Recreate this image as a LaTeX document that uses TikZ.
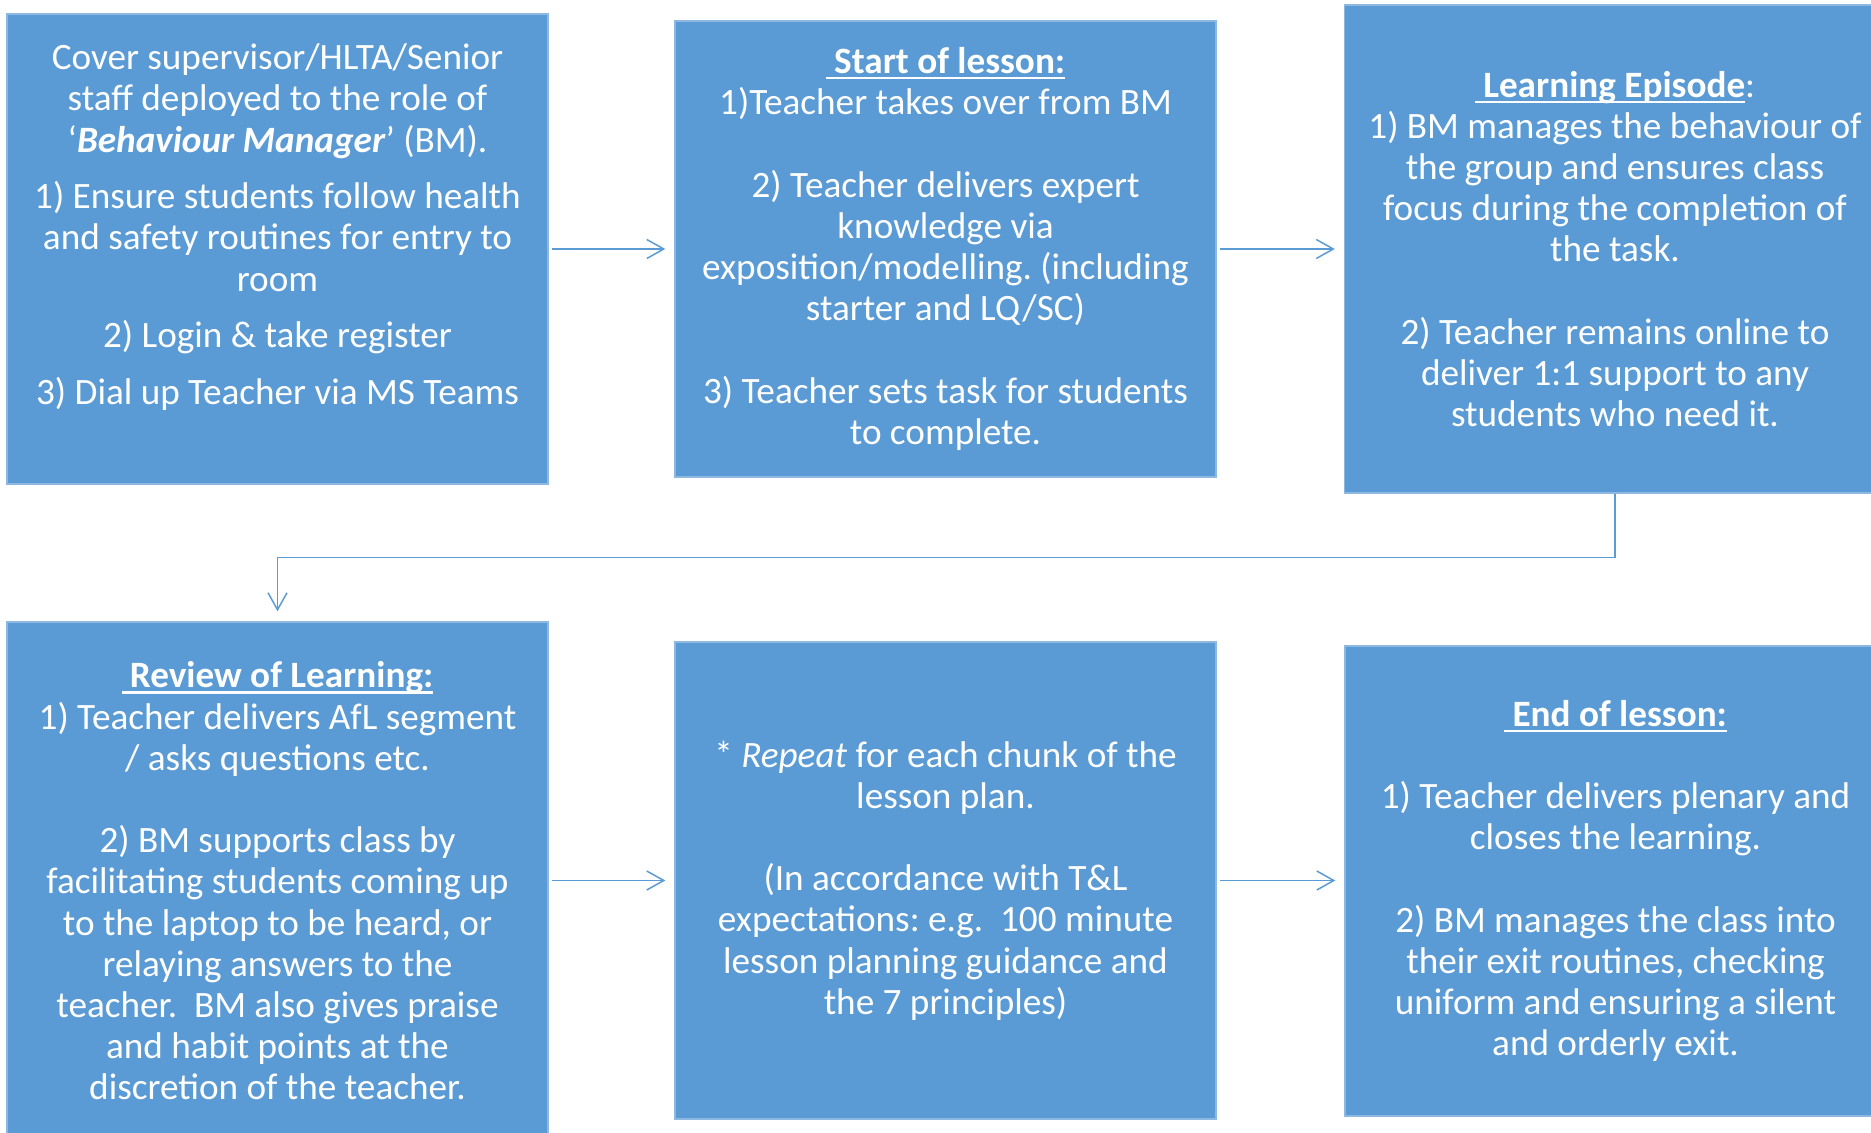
\documentclass[tikz,border=0pt]{standalone}
\usepackage{fontspec}
\setmainfont{Carlito}
\usetikzlibrary{arrows.meta}
\frenchspacing

\definecolor{boxblue}{HTML}{5B9BD5}
\definecolor{boxedge}{HTML}{8DB8E2}

% bold heading with a rule under it
\newcommand{\headul}[1]{\setbox0\hbox{\textbf{#1}}\rlap{\rule[-2.8pt]{\wd0}{1.1pt}}\box0}

\tikzset{
  stage/.style={rectangle, fill=boxblue, draw=boxedge, line width=0.7pt,
    text=white, align=center, inner sep=0pt,
    minimum width=270.5pt, font=\fontsize{18.6pt}{20.6pt}\selectfont},
  flow/.style={draw=boxblue, line width=0.75pt,
    -{Straight Barb[length=8.5pt,width=9.5pt]}}
}

\begin{document}
\begin{tikzpicture}[x=0.5pt,y=-0.5pt]
  \useasboundingbox (0,0) rectangle (1871,1133);

  \node[stage, minimum height=235pt, text depth=25pt] (role) at (277.5,249) {
    Cover supervisor/HLTA/Senior\\
    staff deployed to the role of\\
    ‘\textbf{\textit{Behaviour Manager}}’ (BM).\\[7.7pt]
    1) Ensure students follow health\\
    and safety routines for entry to\\
    room\\[7.7pt]
    2) Login \& take register\\[7.7pt]
    3) Dial up Teacher via MS Teams};

  \node[stage, minimum height=228pt] (start) at (945.5,249) {
    \headul{\ Start of lesson:}\\
    1)Teacher takes over from BM\\[20.6pt]
    2) Teacher delivers expert\\
    knowledge via\\
    exposition/modelling. (including\\
    starter and LQ/SC)\\[20.6pt]
    3) Teacher sets task for students\\
    to complete.};

  \node[stage, minimum height=244pt] (episode) at (1615,249) {
    \headul{\ Learning Episode}:\\
    1) BM manages the behaviour of\\
    the group and ensures class\\
    focus during the completion of\\
    the task.\\[20.6pt]
    2) Teacher remains online to\\
    deliver 1:1 support to any\\
    students who need it.};

  \node[stage, minimum height=259pt] (review) at (277.5,881) {
    \headul{\ Review of Learning:}\\
    1) Teacher delivers AfL segment\\
    / asks questions etc.\\[20.6pt]
    2) BM supports class by\\
    facilitating students coming up\\
    to the laptop to be heard, or\\
    relaying answers to the\\
    teacher.\ \ BM also gives praise\\
    and habit points at the\\
    discretion of the teacher.};

  \node[stage, minimum height=238.5pt] (repeat) at (945.5,880.5) {
    * \textit{Repeat} for each chunk of the\\
    lesson plan.\\[20.6pt]
    (In accordance with T\&L\\
    expectations: e.g.\ \ 100 minute\\
    lesson planning guidance and\\
    the 7 principles)};

  \node[stage, minimum height=235pt] (finish) at (1615.5,881) {
    \headul{\ End of lesson:}\\[20.6pt]
    1) Teacher delivers plenary and\\
    closes the learning.\\[20.6pt]
    2) BM manages the class into\\
    their exit routines, checking\\
    uniform and ensuring a silent\\
    and orderly exit.};

  \draw[flow, shorten <=1.5pt, shorten >=4.5pt] (role) -- (start);
  \draw[flow, shorten <=1.5pt, shorten >=4.5pt] (start) -- (episode);
  \draw[flow, shorten >=5pt] (episode.south) -- ++(0,64) -| (review.north);
  \draw[flow, shorten <=1.5pt, shorten >=4.5pt] (review.east |- repeat.west) -- (repeat.west);
  \draw[flow, shorten <=1.5pt, shorten >=4.5pt] (repeat.east) -- (repeat.east -| finish.west);
\end{tikzpicture}
\end{document}
